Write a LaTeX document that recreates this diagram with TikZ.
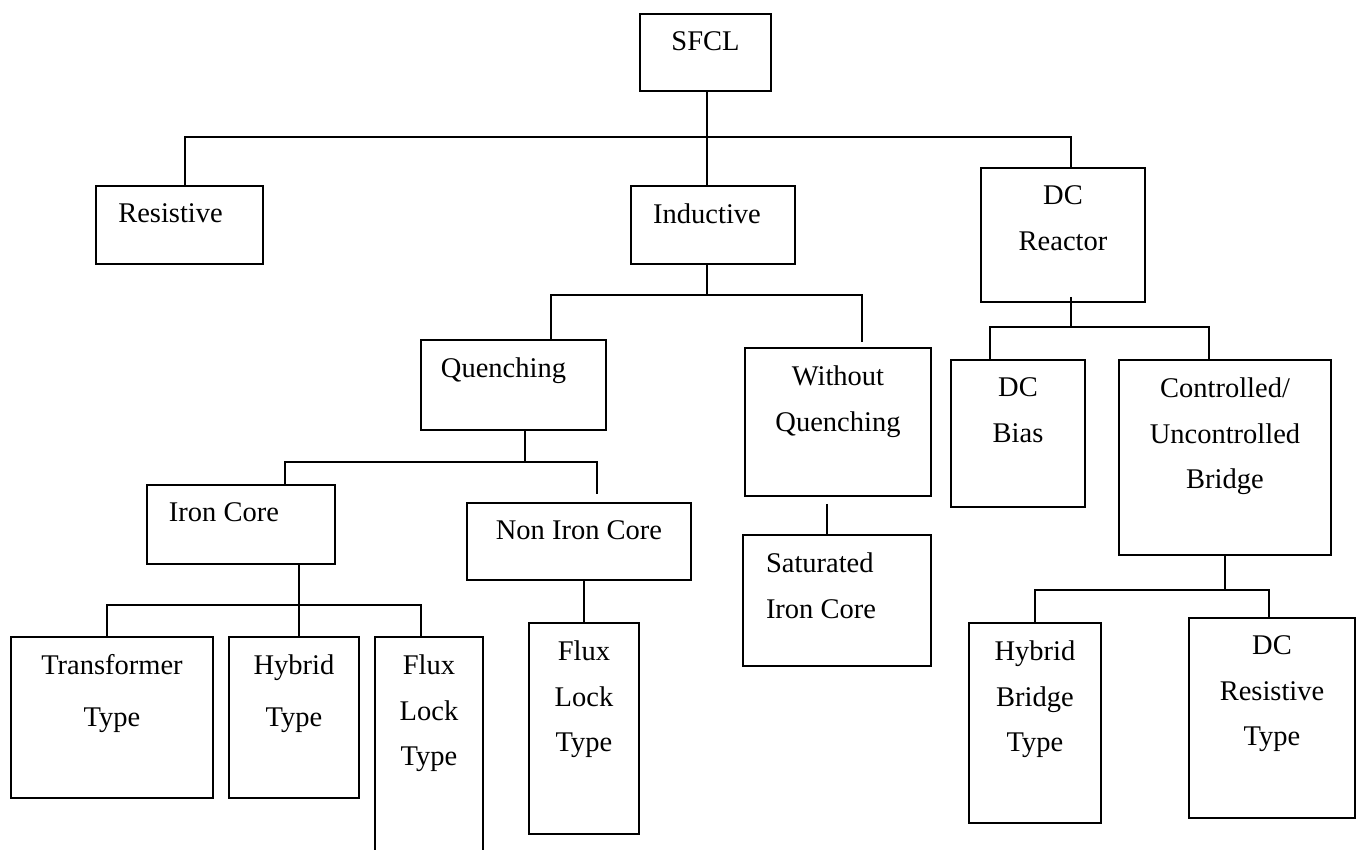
\documentclass[tikz,border=0pt]{standalone}
\usepackage{fontspec}
\setmainfont{Liberation Serif}
\usetikzlibrary{calc,positioning}

\tikzset{
  blk/.style={draw, line width=1.8pt, inner sep=0pt},
  lbl/.style={anchor=north, inner sep=0pt, yshift=-18.5pt, align=center,
    font=\fontsize{28.5}{45.5}\selectfont},
  link/.style={line width=1.8pt}
}

\begin{document}
\begin{tikzpicture}[x=1pt,y=-1pt]
  \useasboundingbox[fill=white] (0,0) rectangle (1361,850);

  % Root
  \node[blk, minimum width=131pt, minimum height=77pt, label={[lbl]north:{SFCL}}] (sfcl) at (705.5,52.5) {};

  % First level
  \node[blk, minimum width=167pt, minimum height=78pt, label={[lbl, xshift=-9pt]north:{Resistive}}] (res) at (179.5,225) {};
  \node[blk, minimum width=164pt, minimum height=78pt, label={[lbl, xshift=-6pt]north:{Inductive}}] (ind) at (713,225) {};
  \node[blk, minimum width=164pt, minimum height=134pt, label={[lbl]north:{DC\\Reactor}}] (rea) at (1063,235) {};

  % Inductive types
  \node[blk, minimum width=185pt, minimum height=90pt, label={[lbl, xshift=-10pt]north:{Quenching}}] (quen) at (513.5,385) {};
  \node[blk, minimum width=186pt, minimum height=148pt, label={[lbl]north:{Without\\Quenching}}] (woq) at (838,422) {};

  % DC reactor types
  \node[blk, minimum width=134pt, minimum height=147pt, label={[lbl]north:{DC\\Bias}}] (bias) at (1018,433.5) {};
  \node[blk, minimum width=212pt, minimum height=195pt, label={[lbl]north:{Controlled/\\Uncontrolled\\Bridge}}] (brg) at (1225,457.5) {};

  % Quenching types
  \node[blk, minimum width=188pt, minimum height=79pt, label={[lbl, xshift=-17pt]north:{Iron Core}}] (iron) at (241,524.5) {};
  \node[blk, minimum width=224pt, minimum height=77pt, label={[lbl]north:{Non Iron Core}}] (noniron) at (579,541.5) {};
  \node[blk, minimum width=188pt, minimum height=131pt, label={[lbl, align=left, xshift=-16pt]north:{Saturated\\Iron Core}}] (sat) at (837,600.5) {};

  % Leaves
  \node[blk, minimum width=202pt, minimum height=161pt, label={[lbl]north:{Transformer\\[6pt]Type}}] (trf) at (112,717.5) {};
  \node[blk, minimum width=130pt, minimum height=161pt, label={[lbl]north:{Hybrid\\[6pt]Type}}] (hyb) at (294,717.5) {};
  \node[blk, minimum width=108pt, minimum height=216pt, label={[lbl]north:{Flux\\Lock\\Type}}] (flux1) at (429,745) {};
  \node[blk, minimum width=110pt, minimum height=211pt, label={[lbl]north:{Flux\\Lock\\Type}}] (flux2) at (584,728.5) {};
  \node[blk, minimum width=132pt, minimum height=200pt, label={[lbl]north:{Hybrid\\Bridge\\Type}}] (hbr) at (1035,723) {};
  \node[blk, minimum width=166pt, minimum height=200pt, label={[lbl]north:{DC\\Resistive\\Type}}] (dcr) at (1272,718) {};

  % Branch points
  \coordinate (t1) at (707,137);  \coordinate (t1l) at (185,137);  \coordinate (t1r) at (1071,137);
  \coordinate (t2) at (707,295);  \coordinate (t2l) at (551,295);  \coordinate (t2r) at (862,295);
  \coordinate (t3) at (525,462);  \coordinate (t3l) at (285,462);  \coordinate (t3r) at (597,462);
  \coordinate (t4) at (299,605);  \coordinate (t4l) at (107,605);  \coordinate (t4r) at (421,605);
  \coordinate (t6) at (827,520);
  \coordinate (t7) at (1071,327); \coordinate (t7l) at (990,327);  \coordinate (t7r) at (1209,327);
  \coordinate (t8) at (1225,590); \coordinate (t8l) at (1035,590); \coordinate (t8r) at (1269,590);

  % SFCL branches
  \draw[link] (sfcl.south -| t1) -- (ind.north -| t1);
  \draw[link] (res.north -| t1l) -- (t1l) -- (t1r) -- (rea.north -| t1r);

  % Inductive branches
  \draw[link] (ind.south -| t2) -- (t2);
  \draw[link, shorten >=5pt] (quen.north -| t2l) -- (t2l) -- (t2r) -- (woq.north -| t2r);

  % Quenching branches
  \draw[link] (quen.south -| t3) -- (t3);
  \draw[link, shorten >=8pt] (iron.north -| t3l) -- (t3l) -- (t3r) -- (noniron.north -| t3r);

  % Iron core branches
  \draw[link] (iron.south -| t4) -- (hyb.north -| t4);
  \draw[link] (trf.north -| t4l) -- (t4l) -- (t4r) -- (flux1.north -| t4r);

  % Non iron core and without quenching
  \draw[link] (noniron.south -| flux2.north) -- (flux2.north);
  \draw[link, shorten <=7pt] (woq.south -| t6) -- (sat.north -| t6);

  % DC reactor branches
  \draw[link, shorten <=-6pt] (rea.south -| t7) -- (t7);
  \draw[link] (bias.north -| t7l) -- (t7l) -- (t7r) -- (brg.north -| t7r);

  % Bridge branches
  \draw[link] (brg.south -| t8) -- (t8);
  \draw[link] (hbr.north -| t8l) -- (t8l) -- (t8r) -- (dcr.north -| t8r);

\end{tikzpicture}
\end{document}
